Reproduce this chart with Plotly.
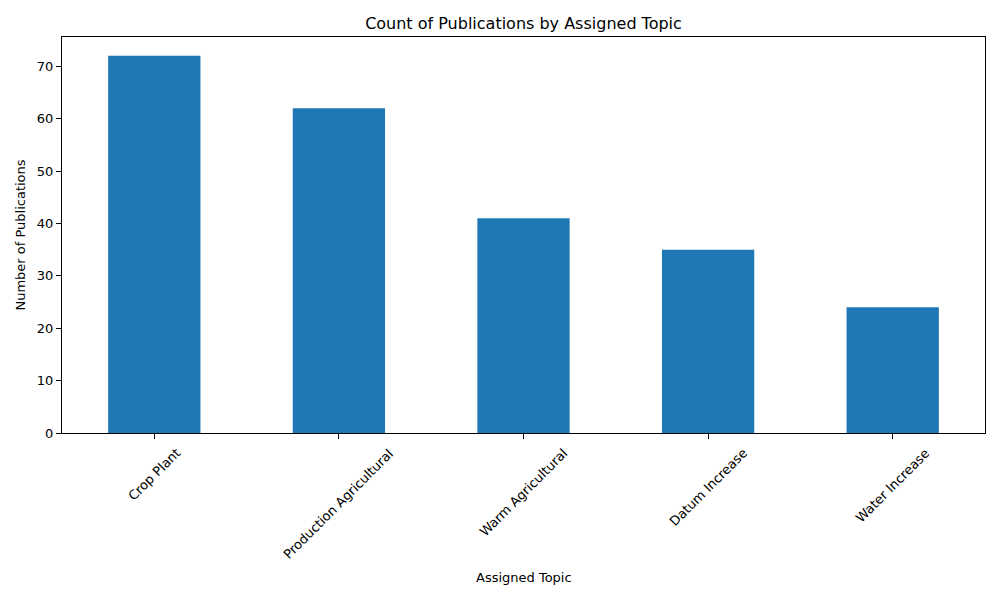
import plotly.graph_objects as go

# data
topics = ["Crop Plant", "Production Agricultural", "Warm Agricultural", "Datum Increase", "Water Increase"]
counts = [72, 62, 41, 35, 24]

C_BAR = "#1f77b4"
C_TEXT = "#000000"

# the page body puts the figure 8px in from the top-left corner
W, H, OFF = 992, 592, 8

fig = go.Figure(go.Bar(
    x=topics,
    y=counts,
    width=0.5,
    marker=dict(color=C_BAR, line=dict(width=0)),
))

axis_common = dict(
    showline=True, linecolor="black", linewidth=1, mirror=True,
    ticks="outside", ticklen=5, tickwidth=1, tickcolor="black",
    showgrid=False, zeroline=False,
    tickfont=dict(size=13, color=C_TEXT),
)

# rotated category labels, centred under each tick like matplotlib
label_notes = [
    dict(x=t, y=0, xref="x", yref="paper", text=t, showarrow=False,
         textangle=-45, xanchor="center", yanchor="top", yshift=-10,
         font=dict(size=13, color=C_TEXT))
    for t in topics
]

fig.update_layout(
    width=W, height=H,
    paper_bgcolor="white", plot_bgcolor="white",
    font=dict(family="DejaVu Sans", color=C_TEXT, size=13),
    margin=dict(l=62 - OFF, r=15, t=37 - OFF, b=167),
    title=dict(
        text="Count of Publications by Assigned Topic",
        x=((62 + 985) / 2 - OFF) / W, xanchor="center",
        y=1 - (23 - OFF) / H, yanchor="middle",
        font=dict(size=16),
    ),
    xaxis=dict(
        type="category", range=[-0.5, 4.5], showticklabels=False,
        **axis_common,
    ),
    yaxis=dict(
        range=[0, 75.6], dtick=10,
        title=dict(text="Number of Publications", font=dict(size=13), standoff=8),
        **axis_common,
    ),
    annotations=label_notes + [
        dict(x=0.5, y=0, xref="paper", yref="paper", text="Assigned Topic",
             showarrow=False, xanchor="center", yanchor="middle",
             yshift=-(577 - 433), font=dict(size=13, color=C_TEXT)),
    ],
    showlegend=False,
    bargap=0.5,
)

fig.write_html("out.html")
